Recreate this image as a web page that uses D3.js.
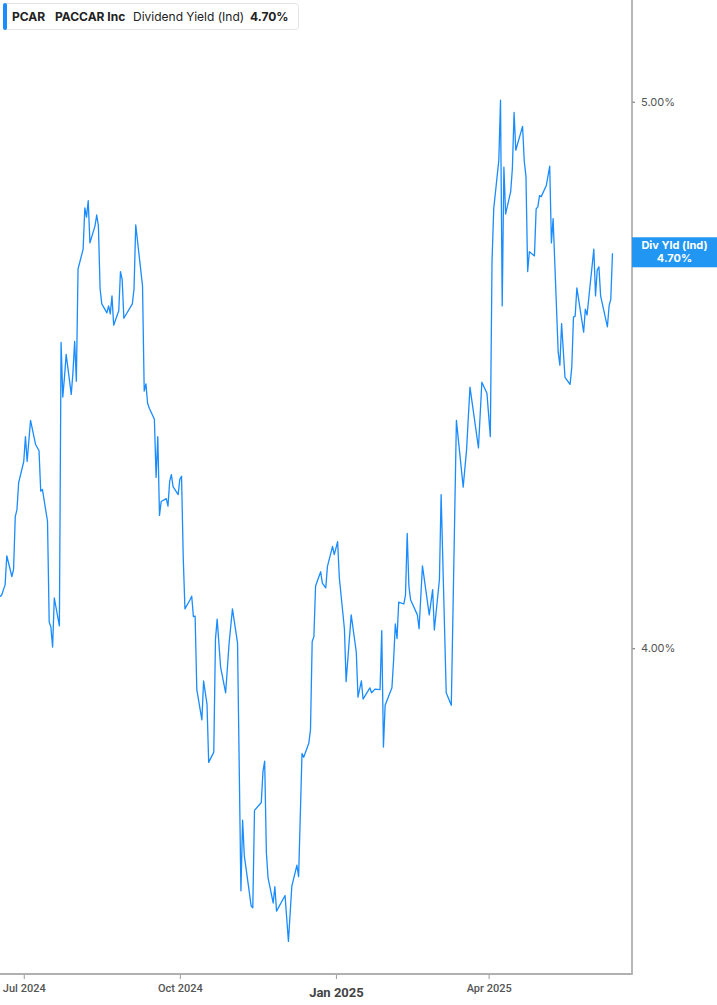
<!DOCTYPE html>
<html><head><meta charset="utf-8">
<script src="https://cdn.jsdelivr.net/npm/d3@7"></script>
<style>
html,body{margin:0;padding:0;background:#fff;}
svg{display:block;font-family:Inter,"Noto Sans",sans-serif;}
</style></head>
<body><svg id="c" width="717" height="1005"></svg>
<script>
const ticker = "PCAR";
const company = "PACCAR Inc";
const metric = "Dividend Yield (Ind)";
const badgeTitle = "Div Yld (Ind)";
const lastLabel = "4.70%";
const yTicks = [4, 5];
const xTicks = ["2024-07-01", "2024-10-01", "2025-01-01", "2025-04-01"];
const xTickLabels = ["Jul 2024", "Oct 2024", "Jan 2025", "Apr 2025"];

const dates = [
"2024-06-17","2024-06-18","2024-06-20","2024-06-21","2024-06-24","2024-06-25","2024-06-26","2024-06-27","2024-06-28",
"2024-07-01","2024-07-02","2024-07-03","2024-07-05","2024-07-08","2024-07-10","2024-07-11","2024-07-12","2024-07-15",
"2024-07-16","2024-07-17","2024-07-18","2024-07-19","2024-07-22","2024-07-23","2024-07-24","2024-07-25","2024-07-26",
"2024-07-29","2024-07-30","2024-07-31","2024-08-01","2024-08-02","2024-08-05","2024-08-06","2024-08-07","2024-08-08",
"2024-08-09","2024-08-12","2024-08-13","2024-08-14","2024-08-15","2024-08-16","2024-08-19","2024-08-20","2024-08-21",
"2024-08-22","2024-08-23","2024-08-26","2024-08-27","2024-08-28","2024-08-29","2024-09-03","2024-09-04","2024-09-05",
"2024-09-09","2024-09-10","2024-09-11","2024-09-12","2024-09-13","2024-09-16","2024-09-17","2024-09-18","2024-09-19",
"2024-09-20","2024-09-23","2024-09-24","2024-09-25","2024-09-26","2024-09-27","2024-09-30","2024-10-01","2024-10-02",
"2024-10-03","2024-10-04","2024-10-07","2024-10-08","2024-10-09","2024-10-10","2024-10-11","2024-10-14","2024-10-15",
"2024-10-17","2024-10-18","2024-10-21","2024-10-22","2024-10-23","2024-10-25","2024-10-28","2024-10-30","2024-11-01",
"2024-11-04","2024-11-06","2024-11-07","2024-11-08","2024-11-11","2024-11-12","2024-11-13","2024-11-14","2024-11-18",
"2024-11-19","2024-11-20","2024-11-21","2024-11-22","2024-11-25","2024-11-26","2024-11-27","2024-12-02","2024-12-04",
"2024-12-06","2024-12-09","2024-12-10","2024-12-12","2024-12-13","2024-12-16","2024-12-17","2024-12-18","2024-12-19",
"2024-12-20","2024-12-23","2024-12-24","2024-12-26","2024-12-27","2024-12-30","2024-12-31","2025-01-02","2025-01-03",
"2025-01-06","2025-01-07","2025-01-10","2025-01-13","2025-01-14","2025-01-16","2025-01-17","2025-01-21","2025-01-22",
"2025-01-24","2025-01-27","2025-01-28","2025-01-29","2025-01-30","2025-02-03","2025-02-04","2025-02-05","2025-02-06",
"2025-02-07","2025-02-10","2025-02-11","2025-02-12","2025-02-13","2025-02-14","2025-02-18","2025-02-19","2025-02-21",
"2025-02-25","2025-02-27","2025-02-28","2025-03-03","2025-03-04","2025-03-07","2025-03-10","2025-03-13","2025-03-17",
"2025-03-19","2025-03-21","2025-03-26","2025-03-28","2025-03-31","2025-04-02","2025-04-03","2025-04-04","2025-04-07",
"2025-04-08","2025-04-09","2025-04-10","2025-04-11","2025-04-14","2025-04-15","2025-04-16","2025-04-17","2025-04-21",
"2025-04-22","2025-04-23","2025-04-24","2025-04-25","2025-04-28","2025-04-29","2025-04-30","2025-05-01","2025-05-02",
"2025-05-05","2025-05-07","2025-05-08","2025-05-09","2025-05-12","2025-05-13","2025-05-14","2025-05-16","2025-05-19",
"2025-05-20","2025-05-21","2025-05-22","2025-05-23","2025-05-27","2025-05-28","2025-05-29","2025-06-02","2025-06-03",
"2025-06-04","2025-06-05","2025-06-06","2025-06-10","2025-06-11","2025-06-12","2025-06-13"];

const yields = [
4.085,4.088,4.105,4.154,4.119,4.131,4.221,4.233,4.280,
4.317,4.361,4.317,4.390,4.347,4.336,4.265,4.268,4.213,
4.043,4.035,4.002,4.083,4.037,4.532,4.432,4.468,4.510,
4.437,4.477,4.534,4.461,4.670,4.708,4.788,4.770,4.802,
4.720,4.753,4.774,4.753,4.632,4.604,4.587,4.600,4.585,
4.619,4.564,4.591,4.665,4.650,4.577,4.604,4.632,4.755,
4.638,4.443,4.456,4.421,4.412,4.392,4.289,4.361,4.223,
4.247,4.252,4.239,4.282,4.294,4.273,4.259,4.286,4.291,
4.151,4.065,4.080,4.086,4.052,4.053,3.933,3.885,3.947,
3.910,3.818,3.834,4.015,4.048,3.970,3.928,4.007,4.065,
4.009,3.623,3.729,3.675,3.620,3.601,3.598,3.744,3.756,
3.804,3.820,3.680,3.642,3.605,3.629,3.593,3.616,3.549,
3.630,3.661,3.644,3.832,3.826,3.848,3.869,4.011,4.019,
4.103,4.127,4.108,4.100,4.136,4.170,4.156,4.178,4.117,
4.032,3.946,4.055,3.994,3.921,3.947,3.918,3.936,3.928,
3.934,3.933,4.029,3.842,3.908,3.936,3.981,4.040,4.016,
4.076,4.073,4.088,4.192,4.103,4.080,4.055,4.032,4.137,
4.055,4.097,4.030,4.114,4.259,3.928,3.908,4.390,4.272,
4.338,4.450,4.341,4.459,4.439,4.361,4.685,4.786,4.882,
5.003,4.600,4.868,4.776,4.820,4.866,4.978,4.902,4.950,
4.880,4.850,4.665,4.703,4.695,4.786,4.790,4.812,4.810,
4.832,4.870,4.720,4.767,4.514,4.490,4.567,4.468,4.455,
4.486,4.579,4.581,4.634,4.551,4.594,4.583,4.708,4.619,
4.668,4.674,4.619,4.561,4.600,4.613,4.700];

const parse = d3.utcParse("%Y-%m-%d");
const data = dates.map((d, i) => ({date: parse(d), value: yields[i]}));

const W = 717, H = 1005;
const plotRight = 632, plotBottom = 974;
const svg = d3.select("#c");

const x = d3.scaleUtc()
  .domain([Date.UTC(2024, 5, 17), Date.UTC(2025, 5, 24, 12)])
  .range([0, plotRight]);
const y = d3.scaleLog()
  .domain([3.502, 5.212])
  .range([plotBottom, 0]);

// line
const line = d3.line().x(d => x(d.date)).y(d => y(d.value));
svg.append("path").datum(data)
  .attr("fill", "none")
  .attr("stroke", "#1a8cff")
  .attr("stroke-width", 1.3)
  .attr("stroke-linejoin", "round")
  .attr("d", line);

// right axis
const yAxis = d3.axisRight(y).tickValues(yTicks)
  .tickFormat(d => d3.format(".2f")(d) + "%")
  .tickSize(3).tickPadding(6);
const gy = svg.append("g").attr("transform", `translate(${plotRight},0)`).call(yAxis);
gy.select(".domain").remove();
gy.selectAll(".tick line").attr("stroke", "#666");
gy.selectAll(".tick text").attr("fill", "#555").attr("font-size", 11)
  .attr("font-family", "Inter, sans-serif");
svg.append("line").attr("x1", plotRight).attr("x2", plotRight)
  .attr("y1", 0).attr("y2", plotBottom)
  .attr("stroke", "#a0a0a0").attr("stroke-width", 1.5);

// bottom axis
const xAxis = d3.axisBottom(x).tickValues(xTicks.map(parse))
  .tickFormat((d, i) => xTickLabels[i]).tickSize(5).tickPadding(5);
const gx = svg.append("g").attr("transform", `translate(0,${plotBottom})`).call(xAxis);
gx.select(".domain").remove();
gx.selectAll(".tick line").attr("stroke", "#999");
gx.selectAll(".tick text")
  .attr("fill", (d, i) => xTickLabels[i].startsWith("Jan") ? "#444" : "#555")
  .attr("font-size", (d, i) => xTickLabels[i].startsWith("Jan") ? 13 : 11)
  .attr("font-weight", (d, i) => xTickLabels[i].startsWith("Jan") ? 700 : 500)
  .attr("dy", (d, i) => xTickLabels[i].startsWith("Jan") ? "1.0em" : "0.71em")
  .attr("font-family", "'Roboto', sans-serif");
svg.append("line").attr("x1", 0).attr("x2", plotRight + 0.75)
  .attr("y1", plotBottom).attr("y2", plotBottom)
  .attr("stroke", "#b0b0b0").attr("stroke-width", 2);

// last value badge
const last = data[data.length - 1];
const by = y(last.value);
const badge = svg.append("g");
badge.append("rect").attr("x", plotRight).attr("y", by - 16)
  .attr("width", W - plotRight).attr("height", 30).attr("fill", "#2196f3");
badge.append("text").attr("x", (plotRight + W) / 2).attr("y", by - 4)
  .attr("text-anchor", "middle").attr("fill", "#fff").attr("font-size", 11)
  .attr("font-weight", 700).text(badgeTitle);
badge.append("text").attr("x", (plotRight + W) / 2).attr("y", by + 9)
  .attr("text-anchor", "middle").attr("fill", "#fff").attr("font-size", 11)
  .attr("font-weight", 700).text(lastLabel);

// legend
const lg = svg.append("g");
lg.append("rect").attr("x", 3.5).attr("y", 3.5).attr("width", 295).attr("height", 26)
  .attr("rx", 3).attr("fill", "#fff").attr("stroke", "#e4e4e4");
lg.append("rect").attr("x", 3).attr("y", 3).attr("width", 4).attr("height", 27)
  .attr("rx", 2).attr("fill", "#1a8cff");
const legendItems = [
  {t: ticker, x: 12, w: 700},
  {t: company, x: 55, w: 700},
  {t: metric, x: 133, w: 400},
  {t: lastLabel, x: 250, w: 700}
];
lg.selectAll("text.li").data(legendItems).join("text")
  .attr("x", d => d.x).attr("y", 21)
  .attr("font-size", 12).attr("font-weight", d => d.w)
  .attr("fill", "#222").text(d => d.t);
</script>
</body></html>
